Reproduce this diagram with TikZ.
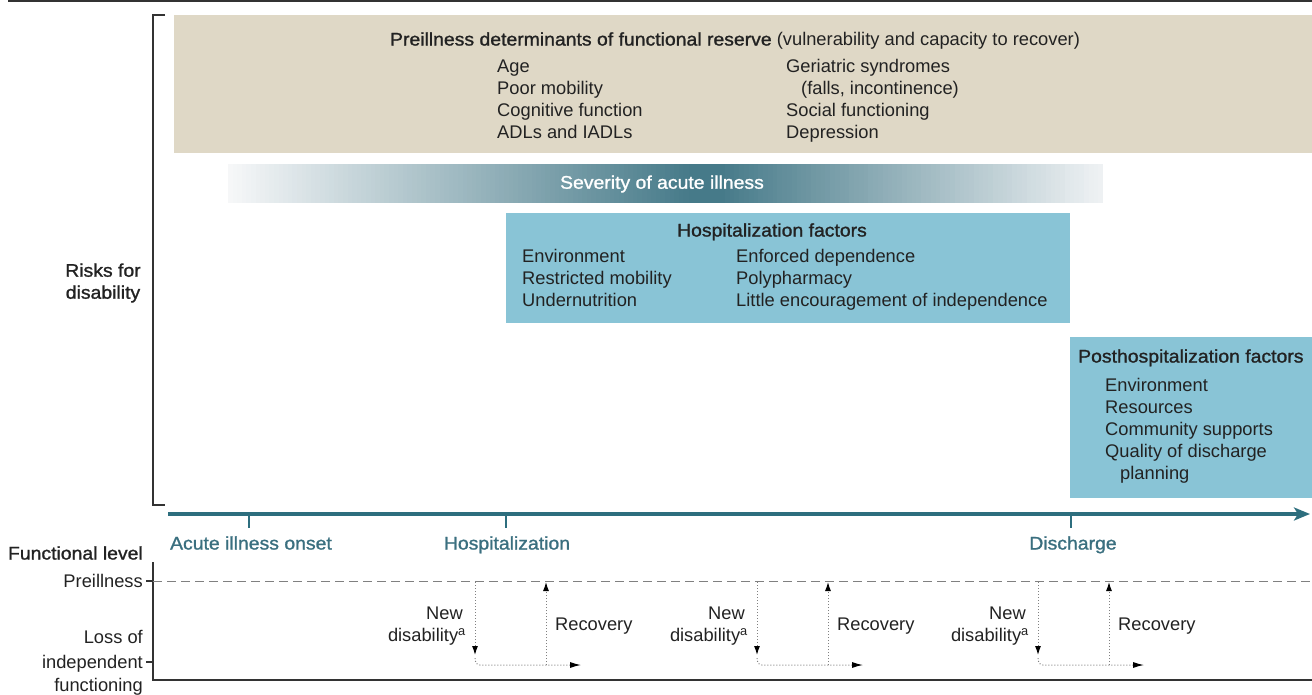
\documentclass[tikz,border=0pt]{standalone}
\usepackage{fontspec}
\setmainfont{Liberation Sans}
\newfontface\medf[FakeBold=1.2,FakeStretch=1.06]{Liberation Sans}
\usetikzlibrary{arrows.meta}
\definecolor{beige}{HTML}{DFD8C6}
\definecolor{hosp}{HTML}{89C4D6}
\definecolor{teal}{HTML}{2D6E7E}
\definecolor{tealtxt}{HTML}{3A6F7F}
\definecolor{sevD}{HTML}{467A89}
\definecolor{sevL}{HTML}{F6F7F8}
\definecolor{sevR}{HTML}{EEF1F3}
\definecolor{ink}{HTML}{222222}
\definecolor{axisc}{HTML}{333333}
\newcommand{\fs}{\fontsize{18.3}{22}\selectfont}
\tikzset{
  txt/.style={inner sep=0pt, text=ink, font=\fs, text height=13.5pt, text depth=4pt, yshift=-1.8pt},
  hd/.style={inner sep=0pt, text=ink, font=\fs\medf, text height=13.5pt, text depth=4pt, yshift=-1.8pt},
  tl/.style={inner sep=0pt, text=tealtxt, font=\fs\medf, text height=13.5pt, text depth=4pt, yshift=-1.8pt},
  axisline/.style={draw=axisc, line width=1.4pt},
  dotline/.style={draw=gray, dotted, line width=1pt},
  tick/.style={draw=teal, line width=1.6pt}
}
\begin{document}
\begin{tikzpicture}[x=1pt,y=-1pt]
\useasboundingbox (0,0) rectangle (1312,694);
% top rule
\draw[draw=axisc, line width=2pt] (8,1) -- (1312,1);
% bracket
\draw[axisline, line width=1.3pt] (165,15) -- (153,15) -- (153,505) -- (165,505);
% preillness box
\fill[beige] (174,15) rectangle (1312,153);
\node[txt, anchor=center] (pt) at (735,39) {{\medf Preillness determinants of functional reserve} (vulnerability and capacity to recover)};
\node[txt, anchor=west] (p1) at (497,66) {Age};
\node[txt, anchor=west] (p2) at (497,88) {Poor mobility};
\node[txt, anchor=west] (p3) at (497,110) {Cognitive function};
\node[txt, anchor=west] (p4) at (497,132) {ADLs and IADLs};
\node[txt, anchor=west] (p5) at (786,66) {Geriatric syndromes};
\node[txt, anchor=west] (p6) at (801,88) {(falls, incontinence)};
\node[txt, anchor=west] (p7) at (786,110) {Social functioning};
\node[txt, anchor=west] (p8) at (786,132) {Depression};
% severity bar (stepped gradient)
\fill[sevD] (688,164) rectangle (724,203);
\foreach \i in {0,...,99}{
  \pgfmathsetmacro\xa{228+4.6*\i}
  \fill[sevD!\i!sevL] (\xa,164) rectangle (\xa+5.2,203);
}
\foreach \i in {0,...,79}{
  \pgfmathsetmacro\xa{720+4.79*\i}
  \pgfmathtruncatemacro\q{100-\i*100/79}
  \pgfmathsetmacro\xb{min(\xa+5.4,1103)}
  \fill[sevD!\q!sevR] (\xa,164) rectangle (\xb,203);
}
\node[inner sep=0pt, text=white, font=\fs\medf] (sev) at (662,184) {Severity of acute illness};
% hospitalization box
\fill[hosp] (506,213) rectangle (1070,323);
\node[hd] (ht) at (772,230) {Hospitalization factors};
\node[txt, anchor=west] (h1) at (522,256) {Environment};
\node[txt, anchor=west] (h2) at (522,278) {Restricted mobility};
\node[txt, anchor=west] (h3) at (522,300) {Undernutrition};
\node[txt, anchor=west] (h4) at (736,256) {Enforced dependence};
\node[txt, anchor=west] (h5) at (736,278) {Polypharmacy};
\node[txt, anchor=west] (h6) at (736,300) {Little encouragement of independence};
% posthospitalization box
\fill[hosp] (1070,337) rectangle (1312,498);
\node[hd, anchor=west] (qt) at (1078,356) {Posthospitalization factors};
\node[txt, anchor=west] (q1) at (1105,385) {Environment};
\node[txt, anchor=west] (q2) at (1105,407) {Resources};
\node[txt, anchor=west] (q3) at (1105,429) {Community supports};
\node[txt, anchor=west] (q4) at (1105,451) {Quality of discharge};
\node[txt, anchor=west] (q5) at (1120,473) {planning};
% risks label
\node[inner sep=0pt, text=ink, font=\fs\medf, align=center] (risk) at (103,283) {Risks for\\disability};
% timeline
\coordinate (t0) at (168,514);
\coordinate (t1) at (1310,514);
\draw[draw=teal, line width=3.5pt, -{Stealth[length=16pt,width=13pt,inset=4pt]}] (t0) -- (t1);
\coordinate (k1) at (249,514);
\coordinate (k2) at (506,514);
\coordinate (k3) at (1071,514);
\draw[tick] (k1) -- ++(0,14);
\draw[tick] (k2) -- ++(0,14);
\draw[tick] (k3) -- ++(0,14);
\node[tl] (l1) at (251,543) {Acute illness onset};
\node[tl] (l2) at (507,543) {Hospitalization};
\node[tl] (l3) at (1073,543) {Discharge};
% functional level axes
\node[hd, anchor=east] (fl) at (143,553) {Functional level};
\coordinate (ax0) at (153,562);
\coordinate (axc) at (153,680);
\coordinate (ax1) at (1312,680);
\draw[axisline] (ax0) -- (axc) -- (ax1);
\draw[axisline] (146,581) -- (153,581);
\draw[axisline] (146,662) -- (153,662);
\node[txt, anchor=east] (pre) at (143,581) {Preillness};
\node[txt, anchor=east] (lo1) at (143,637) {Loss of};
\node[txt, anchor=east] (lo2) at (143,662) {independent};
\node[txt, anchor=east] (lo3) at (143,685) {functioning};
\coordinate (d0) at (153,581);
\coordinate (d1) at (1312,581);
\draw[draw=gray, dashed, dash pattern=on 9pt off 5pt, line width=1pt] (d0) -- (d1);
% three disability/recovery episodes
\foreach \dx [count=\i] in {0,282,563}{
  \coordinate (a\i) at (475+\dx,582);
  \coordinate (b\i) at (475+\dx,655);
  \coordinate (c\i) at (475+\dx,658);
  \coordinate (e\i) at (581+\dx,665);
  \coordinate (u\i) at (546+\dx,665);
  \coordinate (v\i) at (546+\dx,582);
  \draw[dotline, -{Latex[length=9pt,width=6pt,black]}] (a\i) -- (b\i);
  \draw[dotline, rounded corners=5pt, -{Latex[length=11pt,width=6pt,black]}] (c\i) |- (e\i);
  \draw[dotline, -{Latex[length=9pt,width=6pt,black]}] (u\i) -- (v\i);
  \node[txt, anchor=east] (n\i) at (463+\dx,613) {New};
  \node[txt, anchor=east] (m\i) at (466+\dx,635) {disability\textsuperscript{a}};
  \node[txt, anchor=west] (r\i) at (555+\dx,624) {Recovery};
}
\end{tikzpicture}
\end{document}
